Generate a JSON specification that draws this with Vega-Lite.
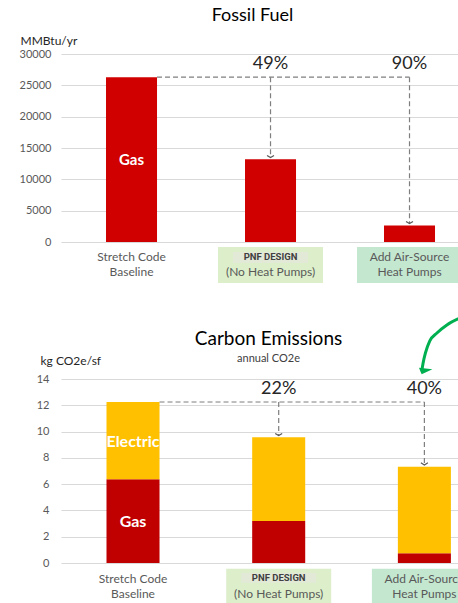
{
  "$schema": "https://vega.github.io/schema/vega-lite/v6.json",
  "padding": {"left": 19, "top": 7, "right": 0, "bottom": 0},
  "background": "white",
  "spacing": 29,
  "config": {
    "font": "Lato",
    "view": {"stroke": null},
    "axis": {"labelFont": "Lato", "labelFontSize": 11, "labelColor": "#595959", "domain": false, "ticks": false, "grid": true, "gridColor": "#d9d9d9", "labelOverlap": false, "format": "d", "titleFont": "Lato", "titleFontSize": 12, "titleFontWeight": "normal", "titleColor": "#262626"},
    "title": {"font": "Lato", "fontWeight": "normal", "color": "#000000", "subtitleFont": "Lato", "subtitleColor": "#404040"}
  },
  "resolve": {"scale": {"color": "independent", "fill": "independent"}},
  "datasets": {
    "cats": [
      {"cat": "base", "l1": "Stretch Code", "l2": "Baseline"},
      {"cat": "pnf", "l1": "PNF DESIGN", "l2": "(No Heat Pumps)"},
      {"cat": "ashp", "l1": "Add Air-Source", "l2": "Heat Pumps"}
    ],
    "fuel": [
      {"cat": "base", "gas": 26300},
      {"cat": "pnf", "gas": 13200},
      {"cat": "ashp", "gas": 2650}
    ],
    "fuelConn": [{"from": "base", "to": "ashp", "level": 26300}],
    "fuelArrows": [
      {"cat": "pnf", "level": 26300, "end": 13480, "pct": "49%"},
      {"cat": "ashp", "level": 26300, "end": 2950, "pct": "90%"}
    ],
    "fuelBarLabels": [{"cat": "base", "y": 13100, "label": "Gas"}],
    "emis": [
      {"cat": "base", "source": "Gas", "v": 6.37},
      {"cat": "base", "source": "Electric", "v": 5.88},
      {"cat": "pnf", "source": "Gas", "v": 3.2},
      {"cat": "pnf", "source": "Electric", "v": 6.37},
      {"cat": "ashp", "source": "Gas", "v": 0.75},
      {"cat": "ashp", "source": "Electric", "v": 6.58}
    ],
    "emisConn": [{"from": "base", "to": "ashp", "level": 12.25}],
    "emisArrows": [
      {"cat": "pnf", "level": 12.25, "end": 9.7, "pct": "22%"},
      {"cat": "ashp", "level": 12.25, "end": 7.46, "pct": "40%"}
    ],
    "emisBarLabels": [
      {"cat": "base", "y": 9.2, "label": "Electric"},
      {"cat": "base", "y": 3.1, "label": "Gas"}
    ],
    "greenArrow": [
      {"t": 1.0, "v": 18.57},
      {"t": 0.972, "v": 18.11},
      {"t": 0.947, "v": 17.5},
      {"t": 0.929, "v": 16.9},
      {"t": 0.918, "v": 15.98},
      {"t": 0.912, "v": 15.2},
      {"t": 0.909, "v": 14.67}
    ],
    "greenHead": [{"t": 0.913, "v": 14.61}]
  },
  "vconcat": [
    {
      "width": 397,
      "height": 188,
      "title": {"text": "Fossil Fuel", "fontSize": 18, "frame": "group", "anchor": "middle", "dx": -7, "offset": 9},
      "encoding": {
        "x": {"field": "cat", "type": "nominal", "axis": null,
          "scale": {"domain": ["base", "pnf", "ashp"], "paddingInner": 0.633, "paddingOuter": 0.2446, "align": 0.662}}
      },
      "layer": [
        {
          "data": {"name": "fuel"},
          "mark": {"type": "bar", "color": "#d00000"},
          "encoding": {
            "y": {"field": "gas", "type": "quantitative",
              "scale": {"domain": [0, 30000], "nice": false},
              "axis": {"values": [0, 5000, 10000, 15000, 20000, 25000, 30000], "title": "MMBtu/yr", "labelPadding": 10, "titleAngle": 0, "titleAlign": "left", "titleBaseline": "middle", "titleX": -41, "titleY": -14}}
          }
        },
        {
          "data": {"name": "cats"},
          "transform": [{"filter": "datum.cat != 'base'"}],
          "mark": {"type": "bar", "width": 105},
          "encoding": {
            "y": {"datum": -798, "type": "quantitative", "axis": {"values": [0, 5000, 10000, 15000, 20000, 25000, 30000], "title": "MMBtu/yr", "labelPadding": 10, "titleAngle": 0, "titleAlign": "left", "titleBaseline": "middle", "titleX": -41, "titleY": -14}},
            "y2": {"datum": -6542},
            "fill": {"field": "cat", "type": "nominal", "legend": null, "scale": {"domain": ["pnf", "ashp"], "range": ["#dcefca", "#c4e7d0"]}}
          }
        },
        {
          "data": {"name": "cats"},
          "transform": [{"filter": "datum.cat == 'pnf'"}],
          "mark": {"type": "bar", "width": 75, "color": "#e2e9d7"},
          "encoding": {
            "y": {"datum": -1596, "type": "quantitative", "axis": {"values": [0, 5000, 10000, 15000, 20000, 25000, 30000], "title": "MMBtu/yr", "labelPadding": 10, "titleAngle": 0, "titleAlign": "left", "titleBaseline": "middle", "titleX": -41, "titleY": -14}},
            "y2": {"datum": -3351}
          }
        },
        {
          "data": {"name": "fuelBarLabels"},
          "mark": {"type": "text", "color": "white", "fontWeight": "bold", "fontSize": 15, "baseline": "middle"},
          "encoding": {"y": {"field": "y", "type": "quantitative", "axis": {"values": [0, 5000, 10000, 15000, 20000, 25000, 30000], "title": "MMBtu/yr", "labelPadding": 10, "titleAngle": 0, "titleAlign": "left", "titleBaseline": "middle", "titleX": -41, "titleY": -14}}, "text": {"field": "label"}}
        },
        {
          "data": {"name": "fuelConn"},
          "mark": {"type": "rule", "color": "#7f7f7f", "strokeDash": [5, 3], "strokeWidth": 1.2},
          "encoding": {
            "x": {"field": "from", "type": "nominal", "bandPosition": 1},
            "x2": {"field": "to", "bandPosition": 0.5},
            "y": {"field": "level", "type": "quantitative", "axis": {"values": [0, 5000, 10000, 15000, 20000, 25000, 30000], "title": "MMBtu/yr", "labelPadding": 10, "titleAngle": 0, "titleAlign": "left", "titleBaseline": "middle", "titleX": -41, "titleY": -14}}
          }
        },
        {
          "data": {"name": "fuelArrows"},
          "mark": {"type": "rule", "color": "#7f7f7f", "strokeDash": [5, 3], "strokeWidth": 1.2},
          "encoding": {
            "y": {"field": "level", "type": "quantitative", "axis": {"values": [0, 5000, 10000, 15000, 20000, 25000, 30000], "title": "MMBtu/yr", "labelPadding": 10, "titleAngle": 0, "titleAlign": "left", "titleBaseline": "middle", "titleX": -41, "titleY": -14}},
            "y2": {"field": "end"}
          }
        },
        {
          "data": {"name": "fuelArrows"},
          "mark": {"type": "point", "shape": "M-1,-0.6L0,0L1,-0.6", "filled": false, "stroke": "#595959", "strokeWidth": 1.2, "size": 49, "opacity": 1},
          "encoding": {"y": {"field": "end", "type": "quantitative", "axis": {"values": [0, 5000, 10000, 15000, 20000, 25000, 30000], "title": "MMBtu/yr", "labelPadding": 10, "titleAngle": 0, "titleAlign": "left", "titleBaseline": "middle", "titleX": -41, "titleY": -14}}}
        },
        {
          "data": {"name": "fuelArrows"},
          "mark": {"type": "text", "fontSize": 18, "color": "#262626", "baseline": "middle"},
          "encoding": {"y": {"datum": 28400, "type": "quantitative", "axis": {"values": [0, 5000, 10000, 15000, 20000, 25000, 30000], "title": "MMBtu/yr", "labelPadding": 10, "titleAngle": 0, "titleAlign": "left", "titleBaseline": "middle", "titleX": -41, "titleY": -14}}, "text": {"field": "pct"}}
        },
        {
          "data": {"name": "cats"},
          "transform": [{"filter": "datum.cat != 'pnf'"}],
          "mark": {"type": "text", "fontSize": 12, "color": "#595959", "baseline": "middle"},
          "encoding": {"y": {"datum": -2394, "type": "quantitative", "axis": {"values": [0, 5000, 10000, 15000, 20000, 25000, 30000], "title": "MMBtu/yr", "labelPadding": 10, "titleAngle": 0, "titleAlign": "left", "titleBaseline": "middle", "titleX": -41, "titleY": -14}}, "text": {"field": "l1"}}
        },
        {
          "data": {"name": "cats"},
          "transform": [{"filter": "datum.cat == 'pnf'"}],
          "mark": {"type": "text", "fontSize": 9.5, "fontWeight": "bold", "font": "Roboto", "color": "#404040", "baseline": "middle"},
          "encoding": {"y": {"datum": -2394, "type": "quantitative", "axis": {"values": [0, 5000, 10000, 15000, 20000, 25000, 30000], "title": "MMBtu/yr", "labelPadding": 10, "titleAngle": 0, "titleAlign": "left", "titleBaseline": "middle", "titleX": -41, "titleY": -14}}, "text": {"field": "l1"}}
        },
        {
          "data": {"name": "cats"},
          "mark": {"type": "text", "fontSize": 12, "color": "#595959", "baseline": "middle"},
          "encoding": {"y": {"datum": -4787, "type": "quantitative", "axis": {"values": [0, 5000, 10000, 15000, 20000, 25000, 30000], "title": "MMBtu/yr", "labelPadding": 10, "titleAngle": 0, "titleAlign": "left", "titleBaseline": "middle", "titleX": -41, "titleY": -14}}, "text": {"field": "l2"}}
        }
      ]
    },
    {
      "width": 397,
      "height": 184,
      "title": {"text": "Carbon Emissions", "subtitle": "annual CO2e", "fontSize": 19, "subtitleFontSize": 11, "subtitlePadding": 4, "frame": "group", "anchor": "middle", "dx": 9, "offset": -51},
      "resolve": {"scale": {"x": "independent"}},
      "layer": [
        {
          "encoding": {
            "x": {"field": "cat", "type": "nominal", "axis": null,
              "scale": {"domain": ["base", "pnf", "ashp"], "paddingInner": 0.636, "paddingOuter": 0.1805, "align": 0.865}}
          },
          "layer": [
            {
              "data": {"name": "emis"},
              "mark": {"type": "bar"},
              "encoding": {
                "y": {"field": "v", "type": "quantitative", "aggregate": "sum",
                  "scale": {"domain": [0, 14], "nice": false},
                  "axis": {"values": [0, 2, 4, 6, 8, 10, 12, 14], "title": "kg CO2e/sf", "labelPadding": 12, "titleAngle": 0, "titleAlign": "left", "titleBaseline": "middle", "titleX": -21, "titleY": -19}},
                "color": {"field": "source", "type": "nominal", "legend": null, "scale": {"domain": ["Gas", "Electric"], "range": ["#c00000", "#ffc000"]}},
                "order": {"field": "source", "sort": "descending"}
              }
            },
            {
              "data": {"name": "cats"},
              "transform": [{"filter": "datum.cat != 'base'"}],
              "mark": {"type": "bar", "width": 105},
              "encoding": {
                "y": {"datum": -0.434, "type": "quantitative", "axis": {"values": [0, 2, 4, 6, 8, 10, 12, 14], "title": "kg CO2e/sf", "labelPadding": 12, "titleAngle": 0, "titleAlign": "left", "titleBaseline": "middle", "titleX": -21, "titleY": -19}},
                "y2": {"datum": -3.4},
                "fill": {"field": "cat", "type": "nominal", "legend": null, "scale": {"domain": ["pnf", "ashp"], "range": ["#dcefca", "#c4e7d0"]}}
              }
            },
            {
              "data": {"name": "cats"},
              "transform": [{"filter": "datum.cat == 'pnf'"}],
              "mark": {"type": "bar", "width": 75, "color": "#e2e9d7"},
              "encoding": {
                "y": {"datum": -0.74, "type": "quantitative", "axis": {"values": [0, 2, 4, 6, 8, 10, 12, 14], "title": "kg CO2e/sf", "labelPadding": 12, "titleAngle": 0, "titleAlign": "left", "titleBaseline": "middle", "titleX": -21, "titleY": -19}},
                "y2": {"datum": -1.5}
              }
            },
            {
              "data": {"name": "emisBarLabels"},
              "mark": {"type": "text", "color": "white", "fontWeight": "bold", "fontSize": 16, "baseline": "middle"},
              "encoding": {"y": {"field": "y", "type": "quantitative", "axis": {"values": [0, 2, 4, 6, 8, 10, 12, 14], "title": "kg CO2e/sf", "labelPadding": 12, "titleAngle": 0, "titleAlign": "left", "titleBaseline": "middle", "titleX": -21, "titleY": -19}}, "text": {"field": "label"}}
            },
            {
              "data": {"name": "emisConn"},
              "mark": {"type": "rule", "color": "#7f7f7f", "strokeDash": [5, 3], "strokeWidth": 1.2},
              "encoding": {
                "x": {"field": "from", "type": "nominal", "bandPosition": 1},
                "x2": {"field": "to", "bandPosition": 0.5},
                "y": {"field": "level", "type": "quantitative", "axis": {"values": [0, 2, 4, 6, 8, 10, 12, 14], "title": "kg CO2e/sf", "labelPadding": 12, "titleAngle": 0, "titleAlign": "left", "titleBaseline": "middle", "titleX": -21, "titleY": -19}}
              }
            },
            {
              "data": {"name": "emisArrows"},
              "mark": {"type": "rule", "color": "#7f7f7f", "strokeDash": [5, 3], "strokeWidth": 1.2},
              "encoding": {
                "y": {"field": "level", "type": "quantitative", "axis": {"values": [0, 2, 4, 6, 8, 10, 12, 14], "title": "kg CO2e/sf", "labelPadding": 12, "titleAngle": 0, "titleAlign": "left", "titleBaseline": "middle", "titleX": -21, "titleY": -19}},
                "y2": {"field": "end"}
              }
            },
            {
              "data": {"name": "emisArrows"},
              "mark": {"type": "point", "shape": "M-1,-0.6L0,0L1,-0.6", "filled": false, "stroke": "#595959", "strokeWidth": 1.2, "size": 49, "opacity": 1},
              "encoding": {"y": {"field": "end", "type": "quantitative", "axis": {"values": [0, 2, 4, 6, 8, 10, 12, 14], "title": "kg CO2e/sf", "labelPadding": 12, "titleAngle": 0, "titleAlign": "left", "titleBaseline": "middle", "titleX": -21, "titleY": -19}}}
            },
            {
              "data": {"name": "emisArrows"},
              "mark": {"type": "text", "fontSize": 18, "color": "#262626", "baseline": "middle"},
              "encoding": {"y": {"datum": 13.24, "type": "quantitative", "axis": {"values": [0, 2, 4, 6, 8, 10, 12, 14], "title": "kg CO2e/sf", "labelPadding": 12, "titleAngle": 0, "titleAlign": "left", "titleBaseline": "middle", "titleX": -21, "titleY": -19}}, "text": {"field": "pct"}}
            },
            {
              "data": {"name": "cats"},
              "transform": [{"filter": "datum.cat != 'pnf'"}],
              "mark": {"type": "text", "fontSize": 12, "color": "#595959", "baseline": "middle"},
              "encoding": {"y": {"datum": -1.19, "type": "quantitative", "axis": {"values": [0, 2, 4, 6, 8, 10, 12, 14], "title": "kg CO2e/sf", "labelPadding": 12, "titleAngle": 0, "titleAlign": "left", "titleBaseline": "middle", "titleX": -21, "titleY": -19}}, "text": {"field": "l1"}}
            },
            {
              "data": {"name": "cats"},
              "transform": [{"filter": "datum.cat == 'pnf'"}],
              "mark": {"type": "text", "fontSize": 9.5, "fontWeight": "bold", "font": "Roboto", "color": "#404040", "baseline": "middle"},
              "encoding": {"y": {"datum": -1.15, "type": "quantitative", "axis": {"values": [0, 2, 4, 6, 8, 10, 12, 14], "title": "kg CO2e/sf", "labelPadding": 12, "titleAngle": 0, "titleAlign": "left", "titleBaseline": "middle", "titleX": -21, "titleY": -19}}, "text": {"field": "l1"}}
            },
            {
              "data": {"name": "cats"},
              "mark": {"type": "text", "fontSize": 12, "color": "#595959", "baseline": "middle"},
              "encoding": {"y": {"datum": -2.34, "type": "quantitative", "axis": {"values": [0, 2, 4, 6, 8, 10, 12, 14], "title": "kg CO2e/sf", "labelPadding": 12, "titleAngle": 0, "titleAlign": "left", "titleBaseline": "middle", "titleX": -21, "titleY": -19}}, "text": {"field": "l2"}}
            }
          ]
        },
        {
          "encoding": {
            "x": {"field": "t", "type": "quantitative", "axis": null, "scale": {"domain": [0, 1], "nice": false, "zero": false}}
          },
          "layer": [
            {
              "data": {"name": "greenArrow"},
              "mark": {"type": "line", "color": "#00b050", "strokeWidth": 3, "interpolate": "monotone", "strokeCap": "round"},
              "encoding": {"y": {"field": "v", "type": "quantitative", "axis": {"values": [0, 2, 4, 6, 8, 10, 12, 14], "title": "kg CO2e/sf", "labelPadding": 12, "titleAngle": 0, "titleAlign": "left", "titleBaseline": "middle", "titleX": -21, "titleY": -19}}}
            },
            {
              "data": {"name": "greenHead"},
              "mark": {"type": "point", "shape": "M-0.5,-0.35L1,-0.2L-0.2,0.35Z", "filled": true, "color": "#00b050", "size": 324, "opacity": 1},
              "encoding": {"y": {"field": "v", "type": "quantitative", "axis": {"values": [0, 2, 4, 6, 8, 10, 12, 14], "title": "kg CO2e/sf", "labelPadding": 12, "titleAngle": 0, "titleAlign": "left", "titleBaseline": "middle", "titleX": -21, "titleY": -19}}}
            }
          ]
        }
      ]
    }
  ]
}
